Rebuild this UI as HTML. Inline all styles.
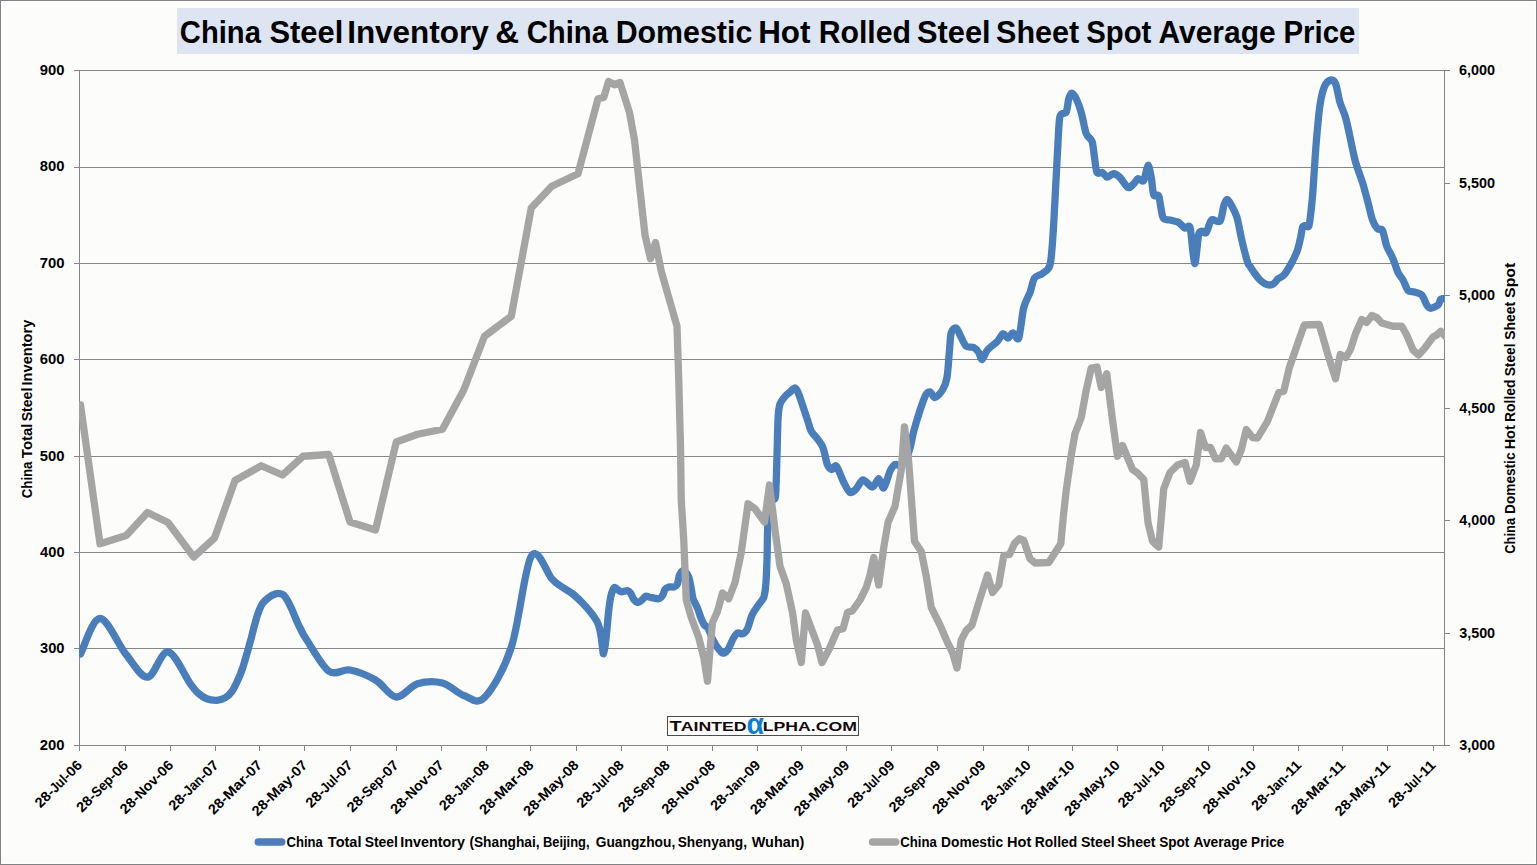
<!DOCTYPE html>
<html><head><meta charset="utf-8"><title>China Steel Inventory</title>
<style>
html,body{margin:0;padding:0;background:#fcfdfb;}
body{width:1537px;height:865px;overflow:hidden;position:relative;font-family:"Liberation Sans",sans-serif;}
</style></head><body>
<svg width="1537" height="865" viewBox="0 0 1537 865" style="position:absolute;left:0;top:0;font-family:'Liberation Sans',sans-serif;font-weight:bold">
<rect x="0" y="0" width="1537" height="865" fill="#808285"/>
<rect x="1" y="1" width="1535" height="863" fill="#ffffff"/>
<rect x="2" y="2" width="1533" height="861" fill="#fcfdfb"/>
<rect x="177" y="8" width="1182" height="46" fill="#dde5f2"/>
<text transform="translate(179.83 42.9) scale(0.9299 1)" font-size="31.4" fill="#000">China</text>
<text transform="translate(269.43 42.9) scale(0.9843 1)" font-size="31.4" fill="#000">Steel</text>
<text transform="translate(347.15 42.9) scale(1.0025 1)" font-size="31.4" fill="#000">Inventory</text>
<text transform="translate(495.28 42.9) scale(1.0502 1)" font-size="31.4" fill="#000">&amp;</text>
<text transform="translate(526.63 42.9) scale(0.9334 1)" font-size="31.4" fill="#000">China</text>
<text transform="translate(615.63 42.9) scale(0.9676 1)" font-size="31.4" fill="#000">Domestic</text>
<text transform="translate(758.16 42.9) scale(0.9996 1)" font-size="31.4" fill="#000">Hot</text>
<text transform="translate(818.63 42.9) scale(0.9636 1)" font-size="31.4" fill="#000">Rolled</text>
<text transform="translate(916.93 42.9) scale(0.9815 1)" font-size="31.4" fill="#000">Steel</text>
<text transform="translate(996.04 42.9) scale(0.9731 1)" font-size="31.4" fill="#000">Sheet</text>
<text transform="translate(1086.17 42.9) scale(0.9342 1)" font-size="31.4" fill="#000">Spot</text>
<text transform="translate(1158.40 42.9) scale(0.9558 1)" font-size="31.4" fill="#000">Average</text>
<text transform="translate(1283.49 42.9) scale(0.9364 1)" font-size="31.4" fill="#000">Price</text>
<line x1="74.0" y1="70.50" x2="1444.5" y2="70.50" stroke="#848689" stroke-width="1"/>
<line x1="74.0" y1="167.50" x2="1444.5" y2="167.50" stroke="#848689" stroke-width="1"/>
<line x1="74.0" y1="263.50" x2="1444.5" y2="263.50" stroke="#848689" stroke-width="1"/>
<line x1="74.0" y1="359.50" x2="1444.5" y2="359.50" stroke="#848689" stroke-width="1"/>
<line x1="74.0" y1="456.50" x2="1444.5" y2="456.50" stroke="#848689" stroke-width="1"/>
<line x1="74.0" y1="552.50" x2="1444.5" y2="552.50" stroke="#848689" stroke-width="1"/>
<line x1="74.0" y1="648.50" x2="1444.5" y2="648.50" stroke="#848689" stroke-width="1"/>
<line x1="74.0" y1="745.50" x2="1444.5" y2="745.50" stroke="#848689" stroke-width="1"/>
<line x1="79.5" y1="70.0" x2="79.5" y2="751.0" stroke="#848689" stroke-width="1"/>
<line x1="1444.5" y1="70.0" x2="1444.5" y2="746.0" stroke="#848689" stroke-width="1"/>
<line x1="1444.5" y1="70.50" x2="1450.0" y2="70.50" stroke="#848689" stroke-width="1"/>
<line x1="1444.5" y1="183.50" x2="1450.0" y2="183.50" stroke="#848689" stroke-width="1"/>
<line x1="1444.5" y1="295.50" x2="1450.0" y2="295.50" stroke="#848689" stroke-width="1"/>
<line x1="1444.5" y1="408.50" x2="1450.0" y2="408.50" stroke="#848689" stroke-width="1"/>
<line x1="1444.5" y1="520.50" x2="1450.0" y2="520.50" stroke="#848689" stroke-width="1"/>
<line x1="1444.5" y1="633.50" x2="1450.0" y2="633.50" stroke="#848689" stroke-width="1"/>
<line x1="1444.5" y1="745.50" x2="1450.0" y2="745.50" stroke="#848689" stroke-width="1"/>
<line x1="79.5" y1="745.5" x2="79.5" y2="751.0" stroke="#848689" stroke-width="1"/>
<line x1="125.5" y1="745.5" x2="125.5" y2="751.0" stroke="#848689" stroke-width="1"/>
<line x1="170.5" y1="745.5" x2="170.5" y2="751.0" stroke="#848689" stroke-width="1"/>
<line x1="215.5" y1="745.5" x2="215.5" y2="751.0" stroke="#848689" stroke-width="1"/>
<line x1="259.5" y1="745.5" x2="259.5" y2="751.0" stroke="#848689" stroke-width="1"/>
<line x1="304.5" y1="745.5" x2="304.5" y2="751.0" stroke="#848689" stroke-width="1"/>
<line x1="350.5" y1="745.5" x2="350.5" y2="751.0" stroke="#848689" stroke-width="1"/>
<line x1="396.5" y1="745.5" x2="396.5" y2="751.0" stroke="#848689" stroke-width="1"/>
<line x1="441.5" y1="745.5" x2="441.5" y2="751.0" stroke="#848689" stroke-width="1"/>
<line x1="486.5" y1="745.5" x2="486.5" y2="751.0" stroke="#848689" stroke-width="1"/>
<line x1="530.5" y1="745.5" x2="530.5" y2="751.0" stroke="#848689" stroke-width="1"/>
<line x1="576.5" y1="745.5" x2="576.5" y2="751.0" stroke="#848689" stroke-width="1"/>
<line x1="621.5" y1="745.5" x2="621.5" y2="751.0" stroke="#848689" stroke-width="1"/>
<line x1="667.5" y1="745.5" x2="667.5" y2="751.0" stroke="#848689" stroke-width="1"/>
<line x1="712.5" y1="745.5" x2="712.5" y2="751.0" stroke="#848689" stroke-width="1"/>
<line x1="757.5" y1="745.5" x2="757.5" y2="751.0" stroke="#848689" stroke-width="1"/>
<line x1="801.5" y1="745.5" x2="801.5" y2="751.0" stroke="#848689" stroke-width="1"/>
<line x1="846.5" y1="745.5" x2="846.5" y2="751.0" stroke="#848689" stroke-width="1"/>
<line x1="891.5" y1="745.5" x2="891.5" y2="751.0" stroke="#848689" stroke-width="1"/>
<line x1="937.5" y1="745.5" x2="937.5" y2="751.0" stroke="#848689" stroke-width="1"/>
<line x1="983.5" y1="745.5" x2="983.5" y2="751.0" stroke="#848689" stroke-width="1"/>
<line x1="1028.5" y1="745.5" x2="1028.5" y2="751.0" stroke="#848689" stroke-width="1"/>
<line x1="1072.5" y1="745.5" x2="1072.5" y2="751.0" stroke="#848689" stroke-width="1"/>
<line x1="1117.5" y1="745.5" x2="1117.5" y2="751.0" stroke="#848689" stroke-width="1"/>
<line x1="1162.5" y1="745.5" x2="1162.5" y2="751.0" stroke="#848689" stroke-width="1"/>
<line x1="1208.5" y1="745.5" x2="1208.5" y2="751.0" stroke="#848689" stroke-width="1"/>
<line x1="1253.5" y1="745.5" x2="1253.5" y2="751.0" stroke="#848689" stroke-width="1"/>
<line x1="1298.5" y1="745.5" x2="1298.5" y2="751.0" stroke="#848689" stroke-width="1"/>
<line x1="1342.5" y1="745.5" x2="1342.5" y2="751.0" stroke="#848689" stroke-width="1"/>
<line x1="1387.5" y1="745.5" x2="1387.5" y2="751.0" stroke="#848689" stroke-width="1"/>
<line x1="1433.5" y1="745.5" x2="1433.5" y2="751.0" stroke="#848689" stroke-width="1"/>
<text transform="translate(39.86 74.90) scale(1.0565 1)" font-size="14" fill="#000">900</text>
<text transform="translate(39.86 170.90) scale(1.0565 1)" font-size="14" fill="#000">800</text>
<text transform="translate(39.70 267.90) scale(1.0631 1)" font-size="14" fill="#000">700</text>
<text transform="translate(39.78 363.90) scale(1.0598 1)" font-size="14" fill="#000">600</text>
<text transform="translate(39.86 460.90) scale(1.0565 1)" font-size="14" fill="#000">500</text>
<text transform="translate(40.08 556.90) scale(1.0467 1)" font-size="14" fill="#000">400</text>
<text transform="translate(40.01 652.90) scale(1.0500 1)" font-size="14" fill="#000">300</text>
<text transform="translate(39.86 749.90) scale(1.0565 1)" font-size="14" fill="#000">200</text>
<text transform="translate(1458.99 74.90) scale(1.0312 1)" font-size="14" fill="#000">6,000</text>
<text transform="translate(1459.07 187.90) scale(1.0291 1)" font-size="14" fill="#000">5,500</text>
<text transform="translate(1459.07 299.90) scale(1.0291 1)" font-size="14" fill="#000">5,000</text>
<text transform="translate(1459.29 412.90) scale(1.0228 1)" font-size="14" fill="#000">4,500</text>
<text transform="translate(1459.29 524.90) scale(1.0228 1)" font-size="14" fill="#000">4,000</text>
<text transform="translate(1459.21 637.90) scale(1.0249 1)" font-size="14" fill="#000">3,500</text>
<text transform="translate(1459.21 749.90) scale(1.0249 1)" font-size="14" fill="#000">3,000</text>
<text transform="translate(83.0 766) rotate(-45) translate(-21.10 0) scale(1.0428 1)" font-size="14" fill="#000">-06</text>
<text transform="translate(83.0 766) rotate(-45) translate(-38.90 0) scale(0.8800 1)" font-size="14" fill="#000">Jul</text>
<text transform="translate(83.0 766) rotate(-45) translate(-60.00 0) scale(1.0428 1)" font-size="14" fill="#000">28-</text>
<text transform="translate(129.0 766) rotate(-45) translate(-21.10 0) scale(1.0428 1)" font-size="14" fill="#000">-06</text>
<text transform="translate(129.0 766) rotate(-45) translate(-45.30 0) scale(0.9425 1)" font-size="14" fill="#000">Sep</text>
<text transform="translate(129.0 766) rotate(-45) translate(-66.40 0) scale(1.0428 1)" font-size="14" fill="#000">28-</text>
<text transform="translate(174.2 766) rotate(-45) translate(-21.10 0) scale(1.0428 1)" font-size="14" fill="#000">-06</text>
<text transform="translate(174.2 766) rotate(-45) translate(-47.80 0) scale(1.0095 1)" font-size="14" fill="#000">Nov</text>
<text transform="translate(174.2 766) rotate(-45) translate(-68.90 0) scale(1.0428 1)" font-size="14" fill="#000">28-</text>
<text transform="translate(219.4 766) rotate(-45) translate(-21.10 0) scale(1.0428 1)" font-size="14" fill="#000">-07</text>
<text transform="translate(219.4 766) rotate(-45) translate(-42.90 0) scale(0.9037 1)" font-size="14" fill="#000">Jan</text>
<text transform="translate(219.4 766) rotate(-45) translate(-64.00 0) scale(1.0428 1)" font-size="14" fill="#000">28-</text>
<text transform="translate(263.1 766) rotate(-45) translate(-21.10 0) scale(1.0428 1)" font-size="14" fill="#000">-07</text>
<text transform="translate(263.1 766) rotate(-45) translate(-48.70 0) scale(1.1086 1)" font-size="14" fill="#000">Mar</text>
<text transform="translate(263.1 766) rotate(-45) translate(-69.80 0) scale(1.0428 1)" font-size="14" fill="#000">28-</text>
<text transform="translate(308.3 766) rotate(-45) translate(-21.10 0) scale(1.0428 1)" font-size="14" fill="#000">-07</text>
<text transform="translate(308.3 766) rotate(-45) translate(-50.60 0) scale(1.0832 1)" font-size="14" fill="#000">May</text>
<text transform="translate(308.3 766) rotate(-45) translate(-71.70 0) scale(1.0428 1)" font-size="14" fill="#000">28-</text>
<text transform="translate(353.6 766) rotate(-45) translate(-21.10 0) scale(1.0428 1)" font-size="14" fill="#000">-07</text>
<text transform="translate(353.6 766) rotate(-45) translate(-38.90 0) scale(0.8800 1)" font-size="14" fill="#000">Jul</text>
<text transform="translate(353.6 766) rotate(-45) translate(-60.00 0) scale(1.0428 1)" font-size="14" fill="#000">28-</text>
<text transform="translate(399.5 766) rotate(-45) translate(-21.10 0) scale(1.0428 1)" font-size="14" fill="#000">-07</text>
<text transform="translate(399.5 766) rotate(-45) translate(-45.30 0) scale(0.9425 1)" font-size="14" fill="#000">Sep</text>
<text transform="translate(399.5 766) rotate(-45) translate(-66.40 0) scale(1.0428 1)" font-size="14" fill="#000">28-</text>
<text transform="translate(444.7 766) rotate(-45) translate(-21.10 0) scale(1.0428 1)" font-size="14" fill="#000">-07</text>
<text transform="translate(444.7 766) rotate(-45) translate(-47.80 0) scale(1.0095 1)" font-size="14" fill="#000">Nov</text>
<text transform="translate(444.7 766) rotate(-45) translate(-68.90 0) scale(1.0428 1)" font-size="14" fill="#000">28-</text>
<text transform="translate(489.9 766) rotate(-45) translate(-21.10 0) scale(1.0428 1)" font-size="14" fill="#000">-08</text>
<text transform="translate(489.9 766) rotate(-45) translate(-42.90 0) scale(0.9037 1)" font-size="14" fill="#000">Jan</text>
<text transform="translate(489.9 766) rotate(-45) translate(-64.00 0) scale(1.0428 1)" font-size="14" fill="#000">28-</text>
<text transform="translate(534.4 766) rotate(-45) translate(-21.10 0) scale(1.0428 1)" font-size="14" fill="#000">-08</text>
<text transform="translate(534.4 766) rotate(-45) translate(-48.70 0) scale(1.1086 1)" font-size="14" fill="#000">Mar</text>
<text transform="translate(534.4 766) rotate(-45) translate(-69.80 0) scale(1.0428 1)" font-size="14" fill="#000">28-</text>
<text transform="translate(579.6 766) rotate(-45) translate(-21.10 0) scale(1.0428 1)" font-size="14" fill="#000">-08</text>
<text transform="translate(579.6 766) rotate(-45) translate(-50.60 0) scale(1.0832 1)" font-size="14" fill="#000">May</text>
<text transform="translate(579.6 766) rotate(-45) translate(-71.70 0) scale(1.0428 1)" font-size="14" fill="#000">28-</text>
<text transform="translate(624.8 766) rotate(-45) translate(-21.10 0) scale(1.0428 1)" font-size="14" fill="#000">-08</text>
<text transform="translate(624.8 766) rotate(-45) translate(-38.90 0) scale(0.8800 1)" font-size="14" fill="#000">Jul</text>
<text transform="translate(624.8 766) rotate(-45) translate(-60.00 0) scale(1.0428 1)" font-size="14" fill="#000">28-</text>
<text transform="translate(670.8 766) rotate(-45) translate(-21.10 0) scale(1.0428 1)" font-size="14" fill="#000">-08</text>
<text transform="translate(670.8 766) rotate(-45) translate(-45.30 0) scale(0.9425 1)" font-size="14" fill="#000">Sep</text>
<text transform="translate(670.8 766) rotate(-45) translate(-66.40 0) scale(1.0428 1)" font-size="14" fill="#000">28-</text>
<text transform="translate(716.0 766) rotate(-45) translate(-21.10 0) scale(1.0428 1)" font-size="14" fill="#000">-08</text>
<text transform="translate(716.0 766) rotate(-45) translate(-47.80 0) scale(1.0095 1)" font-size="14" fill="#000">Nov</text>
<text transform="translate(716.0 766) rotate(-45) translate(-68.90 0) scale(1.0428 1)" font-size="14" fill="#000">28-</text>
<text transform="translate(761.2 766) rotate(-45) translate(-21.10 0) scale(1.0428 1)" font-size="14" fill="#000">-09</text>
<text transform="translate(761.2 766) rotate(-45) translate(-42.90 0) scale(0.9037 1)" font-size="14" fill="#000">Jan</text>
<text transform="translate(761.2 766) rotate(-45) translate(-64.00 0) scale(1.0428 1)" font-size="14" fill="#000">28-</text>
<text transform="translate(805.0 766) rotate(-45) translate(-21.10 0) scale(1.0428 1)" font-size="14" fill="#000">-09</text>
<text transform="translate(805.0 766) rotate(-45) translate(-48.70 0) scale(1.1086 1)" font-size="14" fill="#000">Mar</text>
<text transform="translate(805.0 766) rotate(-45) translate(-69.80 0) scale(1.0428 1)" font-size="14" fill="#000">28-</text>
<text transform="translate(850.2 766) rotate(-45) translate(-21.10 0) scale(1.0428 1)" font-size="14" fill="#000">-09</text>
<text transform="translate(850.2 766) rotate(-45) translate(-50.60 0) scale(1.0832 1)" font-size="14" fill="#000">May</text>
<text transform="translate(850.2 766) rotate(-45) translate(-71.70 0) scale(1.0428 1)" font-size="14" fill="#000">28-</text>
<text transform="translate(895.4 766) rotate(-45) translate(-21.10 0) scale(1.0428 1)" font-size="14" fill="#000">-09</text>
<text transform="translate(895.4 766) rotate(-45) translate(-38.90 0) scale(0.8800 1)" font-size="14" fill="#000">Jul</text>
<text transform="translate(895.4 766) rotate(-45) translate(-60.00 0) scale(1.0428 1)" font-size="14" fill="#000">28-</text>
<text transform="translate(941.4 766) rotate(-45) translate(-21.10 0) scale(1.0428 1)" font-size="14" fill="#000">-09</text>
<text transform="translate(941.4 766) rotate(-45) translate(-45.30 0) scale(0.9425 1)" font-size="14" fill="#000">Sep</text>
<text transform="translate(941.4 766) rotate(-45) translate(-66.40 0) scale(1.0428 1)" font-size="14" fill="#000">28-</text>
<text transform="translate(986.6 766) rotate(-45) translate(-21.10 0) scale(1.0428 1)" font-size="14" fill="#000">-09</text>
<text transform="translate(986.6 766) rotate(-45) translate(-47.80 0) scale(1.0095 1)" font-size="14" fill="#000">Nov</text>
<text transform="translate(986.6 766) rotate(-45) translate(-68.90 0) scale(1.0428 1)" font-size="14" fill="#000">28-</text>
<text transform="translate(1031.8 766) rotate(-45) translate(-21.10 0) scale(1.0428 1)" font-size="14" fill="#000">-10</text>
<text transform="translate(1031.8 766) rotate(-45) translate(-42.90 0) scale(0.9037 1)" font-size="14" fill="#000">Jan</text>
<text transform="translate(1031.8 766) rotate(-45) translate(-64.00 0) scale(1.0428 1)" font-size="14" fill="#000">28-</text>
<text transform="translate(1075.5 766) rotate(-45) translate(-21.10 0) scale(1.0428 1)" font-size="14" fill="#000">-10</text>
<text transform="translate(1075.5 766) rotate(-45) translate(-48.70 0) scale(1.1086 1)" font-size="14" fill="#000">Mar</text>
<text transform="translate(1075.5 766) rotate(-45) translate(-69.80 0) scale(1.0428 1)" font-size="14" fill="#000">28-</text>
<text transform="translate(1120.7 766) rotate(-45) translate(-21.10 0) scale(1.0428 1)" font-size="14" fill="#000">-10</text>
<text transform="translate(1120.7 766) rotate(-45) translate(-50.60 0) scale(1.0832 1)" font-size="14" fill="#000">May</text>
<text transform="translate(1120.7 766) rotate(-45) translate(-71.70 0) scale(1.0428 1)" font-size="14" fill="#000">28-</text>
<text transform="translate(1165.9 766) rotate(-45) translate(-21.10 0) scale(1.0428 1)" font-size="14" fill="#000">-10</text>
<text transform="translate(1165.9 766) rotate(-45) translate(-38.90 0) scale(0.8800 1)" font-size="14" fill="#000">Jul</text>
<text transform="translate(1165.9 766) rotate(-45) translate(-60.00 0) scale(1.0428 1)" font-size="14" fill="#000">28-</text>
<text transform="translate(1211.9 766) rotate(-45) translate(-21.10 0) scale(1.0428 1)" font-size="14" fill="#000">-10</text>
<text transform="translate(1211.9 766) rotate(-45) translate(-45.30 0) scale(0.9425 1)" font-size="14" fill="#000">Sep</text>
<text transform="translate(1211.9 766) rotate(-45) translate(-66.40 0) scale(1.0428 1)" font-size="14" fill="#000">28-</text>
<text transform="translate(1257.1 766) rotate(-45) translate(-21.10 0) scale(1.0428 1)" font-size="14" fill="#000">-10</text>
<text transform="translate(1257.1 766) rotate(-45) translate(-47.80 0) scale(1.0095 1)" font-size="14" fill="#000">Nov</text>
<text transform="translate(1257.1 766) rotate(-45) translate(-68.90 0) scale(1.0428 1)" font-size="14" fill="#000">28-</text>
<text transform="translate(1302.3 766) rotate(-45) translate(-21.10 0) scale(1.0842 1)" font-size="14" fill="#000">-11</text>
<text transform="translate(1302.3 766) rotate(-45) translate(-42.90 0) scale(0.9037 1)" font-size="14" fill="#000">Jan</text>
<text transform="translate(1302.3 766) rotate(-45) translate(-64.00 0) scale(1.0428 1)" font-size="14" fill="#000">28-</text>
<text transform="translate(1346.1 766) rotate(-45) translate(-21.10 0) scale(1.0842 1)" font-size="14" fill="#000">-11</text>
<text transform="translate(1346.1 766) rotate(-45) translate(-48.70 0) scale(1.1086 1)" font-size="14" fill="#000">Mar</text>
<text transform="translate(1346.1 766) rotate(-45) translate(-69.80 0) scale(1.0428 1)" font-size="14" fill="#000">28-</text>
<text transform="translate(1391.3 766) rotate(-45) translate(-21.10 0) scale(1.0842 1)" font-size="14" fill="#000">-11</text>
<text transform="translate(1391.3 766) rotate(-45) translate(-50.60 0) scale(1.0832 1)" font-size="14" fill="#000">May</text>
<text transform="translate(1391.3 766) rotate(-45) translate(-71.70 0) scale(1.0428 1)" font-size="14" fill="#000">28-</text>
<text transform="translate(1436.5 766) rotate(-45) translate(-21.10 0) scale(1.0842 1)" font-size="14" fill="#000">-11</text>
<text transform="translate(1436.5 766) rotate(-45) translate(-38.90 0) scale(0.8800 1)" font-size="14" fill="#000">Jul</text>
<text transform="translate(1436.5 766) rotate(-45) translate(-60.00 0) scale(1.0428 1)" font-size="14" fill="#000">28-</text>
<text transform="translate(32.3 0) rotate(-90) translate(-498.23 0) scale(0.9440 1)" font-size="14" fill="#000">China</text>
<text transform="translate(32.3 0) rotate(-90) translate(-458.15 0) scale(1.0699 1)" font-size="14" fill="#000">Total</text>
<text transform="translate(32.3 0) rotate(-90) translate(-421.35 0) scale(1.0074 1)" font-size="14" fill="#000">Steel</text>
<text transform="translate(32.3 0) rotate(-90) translate(-385.45 0) scale(1.0437 1)" font-size="14" fill="#000">Inventory</text>
<text transform="translate(1515.2 0) rotate(-90) translate(-553.72 0) scale(0.9206 1)" font-size="14" fill="#000">China</text>
<text transform="translate(1515.2 0) rotate(-90) translate(-513.89 0) scale(0.9750 1)" font-size="14" fill="#000">Domestic</text>
<text transform="translate(1515.2 0) rotate(-90) translate(-449.34 0) scale(1.0313 1)" font-size="14" fill="#000">Hot</text>
<text transform="translate(1515.2 0) rotate(-90) translate(-421.90 0) scale(0.9915 1)" font-size="14" fill="#000">Rolled</text>
<text transform="translate(1515.2 0) rotate(-90) translate(-376.34 0) scale(0.9856 1)" font-size="14" fill="#000">Steel</text>
<text transform="translate(1515.2 0) rotate(-90) translate(-339.85 0) scale(0.9984 1)" font-size="14" fill="#000">Sheet</text>
<text transform="translate(1515.2 0) rotate(-90) translate(-297.90 0) scale(1.1325 1)" font-size="14" fill="#000">Spot</text>
<clipPath id="pc"><rect x="79.2" y="60" width="1365.8" height="700"/></clipPath>
<g clip-path="url(#pc)" fill="none" stroke-linejoin="round" stroke-linecap="round">
<path d="M80.50 654.00C83.75 648.08 92.42 618.43 100.00 618.50C107.58 618.57 118.08 644.63 126.00 654.40C133.92 664.17 140.50 677.52 147.50 677.10C154.50 676.68 160.92 650.87 168.00 651.90C175.08 652.93 184.95 676.40 190.00 683.30C195.05 690.20 195.52 690.72 198.30 693.30C201.08 695.88 203.63 697.58 206.70 698.75C209.77 699.92 213.65 700.44 216.70 700.30C219.75 700.16 222.50 699.33 225.00 697.90C227.50 696.47 229.75 694.27 231.70 691.70C233.65 689.13 234.90 686.37 236.70 682.50C238.50 678.63 240.25 675.25 242.50 668.50C244.75 661.75 248.35 648.62 250.20 642.00C252.05 635.38 252.35 633.43 253.60 628.80C254.85 624.17 256.18 618.45 257.70 614.20C259.22 609.95 260.77 606.15 262.70 603.30C264.63 600.45 267.22 598.65 269.30 597.10C271.38 595.55 273.53 594.60 275.20 594.00C276.87 593.40 277.92 593.33 279.30 593.50C280.68 593.67 282.10 593.78 283.50 595.00C284.90 596.22 286.32 598.43 287.70 600.80C289.08 603.17 290.42 606.13 291.80 609.20C293.18 612.27 294.60 616.02 296.00 619.20C297.40 622.38 298.40 624.83 300.20 628.30C302.00 631.77 302.00 632.84 306.80 640.00C311.60 647.16 321.80 666.25 329.00 671.25C336.20 676.25 342.25 668.54 350.00 670.00C357.75 671.46 367.79 675.50 375.50 680.00C383.21 684.50 389.25 696.38 396.25 697.00C403.25 697.62 409.79 686.08 417.50 683.75C425.21 681.42 434.79 681.04 442.50 683.00C450.21 684.96 456.75 693.08 463.75 695.50C470.75 697.92 476.58 705.50 484.50 697.50C492.42 689.50 503.46 671.04 511.25 647.50C519.04 623.96 524.50 567.71 531.25 556.25C538.00 544.79 546.96 573.86 551.75 578.75C556.54 583.64 556.54 583.10 560.00 585.60C563.46 588.10 568.75 590.85 572.50 593.75C576.25 596.65 579.38 599.79 582.50 603.00C585.62 606.21 588.85 609.96 591.25 613.00C593.65 616.04 595.54 618.75 596.90 621.25C598.06 623.39 598.78 625.68 599.40 628.00C600.02 630.32 600.81 634.71 601.25 637.50C601.69 640.29 602.18 645.18 602.50 647.50C602.82 649.82 603.11 654.11 603.50 653.75C603.89 653.39 604.76 648.39 605.25 645.00C605.74 641.61 606.44 634.64 606.90 630.00C607.36 625.36 607.97 617.14 608.50 612.50C609.03 607.86 609.94 600.80 610.60 597.50C611.26 594.20 612.44 590.83 613.10 589.40C613.76 587.97 614.54 587.41 615.25 587.50C615.96 587.59 617.24 589.37 618.10 590.00C618.96 590.63 619.91 591.81 621.25 591.90C622.59 591.99 626.16 590.43 627.50 590.60C628.84 590.77 629.71 591.84 630.60 593.10C631.49 594.36 632.68 598.06 633.75 599.40C634.82 600.74 636.94 602.41 638.10 602.50C639.26 602.59 640.83 600.89 641.90 600.00C642.97 599.11 644.44 596.64 645.60 596.25C646.76 595.86 648.12 596.89 650.00 597.25C651.88 597.61 656.96 598.99 658.75 598.75C660.54 598.51 661.61 596.94 662.50 595.60C663.39 594.26 664.11 590.64 665.00 589.40C665.89 588.16 667.41 587.26 668.75 586.90C670.09 586.54 673.15 587.35 674.40 586.90C675.65 586.45 676.79 585.45 677.50 583.75C678.21 582.05 678.77 576.79 679.40 575.00C680.03 573.21 681.10 571.75 681.90 571.25C682.70 570.75 684.02 570.68 685.00 571.50C685.98 572.32 687.86 574.54 688.75 577.00C689.64 579.46 690.63 585.64 691.25 588.75C691.87 591.86 692.21 595.99 693.10 598.75C693.99 601.51 696.34 605.24 697.50 608.10C698.66 610.96 700.26 616.34 701.25 618.75C702.24 621.16 703.42 623.66 704.40 625.00C705.38 626.34 707.03 626.31 708.10 628.10C709.17 629.89 710.56 634.73 711.90 637.50C713.24 640.27 715.90 645.27 717.50 647.50C719.10 649.73 721.59 652.83 723.10 653.10C724.61 653.37 726.67 651.45 728.10 649.40C729.53 647.35 731.76 641.08 733.10 638.75C734.44 636.42 736.07 633.81 737.50 633.10C738.93 632.39 741.67 634.37 743.10 633.75C744.53 633.13 746.21 631.43 747.50 628.75C748.79 626.07 750.49 618.46 752.10 615.00C753.71 611.54 757.09 607.00 758.75 604.50C760.41 602.00 762.75 600.29 763.75 597.50C764.75 594.71 765.29 590.36 765.75 585.00C766.21 579.64 766.74 567.86 767.00 560.00C767.26 552.14 767.31 537.43 767.60 530.00C767.89 522.57 768.37 512.43 769.00 508.00C769.63 503.57 771.07 500.71 772.00 499.00C772.93 497.29 774.79 502.29 775.50 496.00C776.21 489.71 776.63 466.21 777.00 455.00C777.37 443.79 777.67 424.79 778.10 417.50C778.53 410.21 779.01 407.00 780.00 404.00C780.99 401.00 783.57 398.21 785.00 396.50C786.43 394.79 788.57 393.21 790.00 392.00C791.43 390.79 793.84 387.93 795.00 388.00C796.16 388.07 797.03 390.07 798.10 392.50C799.17 394.93 801.16 401.07 802.50 405.00C803.84 408.93 806.25 416.25 807.50 420.00C808.75 423.75 809.82 428.54 811.25 431.25C812.68 433.96 815.89 436.82 817.50 439.00C819.11 441.18 821.43 444.21 822.50 446.50C823.57 448.79 824.29 452.36 825.00 455.00C825.71 457.64 826.51 462.91 827.50 465.00C828.49 467.09 830.61 469.42 831.90 469.60C833.19 469.78 834.81 464.41 836.50 466.25C838.19 468.09 841.82 478.75 843.75 482.50C845.68 486.25 848.21 491.61 850.00 492.50C851.79 493.39 854.39 490.54 856.25 488.75C858.11 486.96 860.68 480.25 863.00 480.00C865.32 479.75 870.25 487.18 872.50 487.00C874.75 486.82 877.14 478.61 878.75 478.75C880.36 478.89 882.14 489.07 883.75 488.00C885.36 486.93 888.39 474.61 890.00 471.25C891.61 467.89 893.39 465.32 895.00 464.50C896.61 463.68 899.61 466.43 901.25 465.50C902.89 464.57 905.21 460.64 906.50 458.00C907.79 455.36 909.14 451.29 910.30 447.00C911.46 442.71 912.50 435.21 914.60 428.00C916.70 420.79 922.80 401.64 925.00 396.50C927.20 391.36 928.57 391.86 930.00 392.00C931.43 392.14 933.21 397.79 935.00 397.50C936.79 397.21 940.79 392.86 942.50 390.00C944.21 387.14 946.00 383.21 947.00 377.50C948.00 371.79 948.89 356.43 949.50 350.00C950.11 343.57 950.29 335.64 951.25 332.50C952.21 329.36 954.82 327.29 956.25 328.00C957.68 328.71 959.82 334.89 961.25 337.50C962.68 340.11 964.46 344.82 966.25 346.25C968.04 347.68 971.96 346.61 973.75 347.50C975.54 348.39 977.57 350.79 978.75 352.50C979.93 354.21 980.75 359.86 982.00 359.50C983.25 359.14 985.29 352.61 987.50 350.00C989.71 347.39 995.29 343.57 997.50 341.25C999.71 338.93 1001.50 334.21 1003.00 333.75C1004.50 333.29 1006.57 338.11 1008.00 338.00C1009.43 337.89 1011.46 333.00 1013.00 333.00C1014.54 333.00 1017.21 341.64 1018.75 338.00C1020.29 334.36 1022.14 314.00 1023.75 307.50C1025.36 301.00 1028.46 296.71 1030.00 292.50C1031.54 288.29 1032.71 280.71 1034.50 278.00C1036.29 275.29 1040.29 275.36 1042.50 273.50C1044.71 271.64 1048.50 270.50 1050.00 265.00C1051.50 259.50 1052.21 245.71 1053.00 235.00C1053.79 224.29 1054.79 203.21 1055.50 190.00C1056.21 176.79 1057.36 153.04 1058.00 142.50C1058.64 131.96 1058.82 120.61 1060.00 116.25C1061.18 111.89 1065.00 114.50 1066.25 112.00C1067.50 109.50 1067.96 101.45 1068.75 98.75C1069.54 96.05 1070.68 93.10 1071.75 93.10C1072.82 93.10 1074.89 95.98 1076.25 98.75C1077.61 101.52 1079.82 107.50 1081.25 112.50C1082.68 117.50 1084.71 129.64 1086.25 133.75C1087.79 137.86 1090.82 137.86 1092.00 141.25C1093.18 144.64 1093.79 153.04 1094.50 157.50C1095.21 161.96 1095.86 170.36 1097.00 172.50C1098.14 174.64 1101.07 171.86 1102.50 172.50C1103.93 173.14 1105.39 176.82 1107.00 177.00C1108.61 177.18 1111.89 173.68 1113.75 173.75C1115.61 173.82 1117.96 175.54 1120.00 177.50C1122.04 179.46 1126.04 186.61 1128.00 187.50C1129.96 188.39 1132.32 185.00 1133.75 183.75C1135.18 182.50 1136.57 179.21 1138.00 178.75C1139.43 178.29 1142.32 182.42 1143.75 180.50C1145.18 178.58 1146.93 165.73 1148.00 165.30C1149.07 164.87 1150.43 173.26 1151.25 177.50C1152.07 181.74 1152.68 192.32 1153.75 195.00C1154.82 197.68 1157.43 193.04 1158.75 196.25C1160.07 199.46 1161.39 214.11 1163.00 217.50C1164.61 220.89 1167.75 219.29 1170.00 220.00C1172.25 220.71 1176.68 221.36 1178.75 222.50C1180.82 223.64 1182.89 227.29 1184.50 228.00C1186.11 228.71 1188.79 224.00 1190.00 227.50C1191.21 231.00 1192.26 247.43 1193.00 252.50C1193.74 257.57 1194.40 265.50 1195.20 263.00C1196.00 260.50 1197.70 239.54 1198.60 235.00C1199.50 230.46 1200.41 231.61 1201.50 231.25C1202.59 230.89 1204.82 234.11 1206.25 232.50C1207.68 230.89 1209.54 221.61 1211.50 220.00C1213.46 218.39 1218.21 223.39 1220.00 221.25C1221.79 219.11 1222.97 208.11 1224.00 205.00C1225.03 201.89 1226.16 199.50 1227.20 199.50C1228.24 199.50 1229.85 202.43 1231.25 205.00C1232.65 207.57 1235.46 212.36 1237.00 217.50C1238.54 222.64 1240.46 234.50 1242.00 241.00C1243.54 247.50 1246.66 259.39 1247.80 263.00C1248.94 266.61 1248.97 264.71 1250.00 266.25C1251.03 267.79 1253.57 271.79 1255.00 273.75C1256.43 275.71 1258.57 278.57 1260.00 280.00C1261.43 281.43 1263.57 283.04 1265.00 283.75C1266.43 284.46 1268.66 285.09 1270.00 285.00C1271.34 284.91 1273.24 283.99 1274.40 283.10C1275.56 282.21 1276.94 279.73 1278.10 278.75C1279.26 277.77 1281.34 277.23 1282.50 276.25C1283.66 275.27 1284.82 274.04 1286.25 271.90C1287.68 269.76 1290.89 264.38 1292.50 261.25C1294.11 258.12 1296.34 253.39 1297.50 250.00C1298.66 246.61 1299.89 240.71 1300.60 237.50C1301.31 234.29 1301.87 229.20 1302.50 227.50C1303.13 225.80 1304.11 225.78 1305.00 225.60C1305.89 225.42 1307.95 227.76 1308.75 226.25C1309.55 224.74 1310.15 218.39 1310.60 215.00C1311.05 211.61 1311.56 206.07 1311.90 202.50C1312.24 198.93 1312.38 198.57 1313.00 190.00C1313.62 181.43 1315.25 154.64 1316.25 142.50C1317.25 130.36 1318.82 113.00 1320.00 105.00C1321.18 97.00 1323.00 90.06 1324.50 86.50C1326.00 82.94 1328.90 80.46 1330.50 80.10C1332.10 79.74 1334.34 80.80 1335.70 84.00C1337.06 87.20 1338.49 97.36 1340.00 102.50C1341.51 107.64 1344.11 111.79 1346.25 120.00C1348.39 128.21 1352.68 151.07 1355.00 160.00C1357.32 168.93 1360.64 176.43 1362.50 182.50C1364.36 188.57 1366.57 197.14 1368.00 202.50C1369.43 207.86 1371.14 216.25 1372.50 220.00C1373.86 223.75 1376.07 227.25 1377.50 228.75C1378.93 230.25 1381.18 228.00 1382.50 230.50C1383.82 233.00 1385.25 242.21 1386.75 246.25C1388.25 250.29 1391.39 255.00 1393.00 258.75C1394.61 262.50 1396.57 269.46 1398.00 272.50C1399.43 275.54 1401.57 277.43 1403.00 280.00C1404.43 282.57 1406.39 288.79 1408.00 290.50C1409.61 292.21 1412.29 291.36 1414.25 292.00C1416.21 292.64 1419.96 293.14 1421.75 295.00C1423.54 296.86 1425.50 303.11 1426.75 305.00C1428.00 306.89 1428.89 308.25 1430.50 308.25C1432.11 308.25 1436.57 306.25 1438.00 305.00C1439.43 303.75 1439.79 300.41 1440.50 299.50C1441.21 298.59 1442.21 298.73 1443.00 298.60C1443.79 298.47 1445.57 298.60 1446.00 298.60" stroke="#4a7ebb" stroke-width="7.3"/>
<path d="M80.50 405.00L100.00 543.75L126.25 535.50L147.50 512.50L168.00 522.50L193.75 557.00L214.50 538.00L235.00 480.50L261.25 465.75L282.50 475.00L303.00 456.25L328.75 454.50L350.00 522.00L375.50 530.00L396.25 442.00L417.50 434.25L442.50 429.25L463.75 390.00L484.50 336.25L511.25 316.25L531.25 208.00L551.75 186.25L578.00 173.75L598.00 98.75L603.75 97.50L608.50 81.50L614.50 84.75L620.00 82.50L629.50 112.50L634.50 140.00L640.00 190.00L645.00 235.00L650.50 258.75L655.50 242.50L661.25 271.25L677.00 326.25L678.75 380.00L680.50 446.00L681.25 500.00L683.75 540.00L686.25 600.00L691.25 617.50L698.75 637.50L703.75 657.50L707.50 681.25L710.00 650.00L712.50 622.50L717.50 611.25L722.50 593.00L728.75 598.75L735.00 582.50L741.25 552.50L748.00 503.75L755.00 508.75L764.50 522.00L769.50 485.00L775.00 530.00L780.00 566.25L786.25 583.75L792.50 612.50L796.25 640.00L801.25 662.50L805.50 613.00L817.50 645.00L822.00 662.50L828.75 650.00L837.50 630.00L843.00 628.75L847.50 612.50L852.50 610.75L860.00 600.00L866.25 587.50L870.00 575.00L873.75 557.50L878.75 585.00L883.75 547.50L888.00 522.50L895.00 506.25L901.25 470.00L904.50 426.80L908.75 462.50L914.50 541.25L921.25 551.50L926.25 576.25L931.25 607.50L940.00 625.00L947.50 642.50L952.50 652.50L957.00 668.00L961.25 640.00L966.25 630.50L972.00 625.00L978.75 602.50L987.50 575.00L992.50 592.50L998.75 585.00L1003.75 555.50L1009.50 554.50L1014.50 543.50L1019.50 538.75L1023.75 540.50L1030.00 558.75L1035.00 563.00L1048.75 562.50L1060.75 543.75L1063.75 512.50L1066.25 490.00L1071.25 455.00L1075.00 433.75L1081.25 417.50L1086.25 390.00L1091.25 368.00L1097.00 367.00L1101.25 387.50L1106.75 373.75L1112.50 420.00L1117.50 456.25L1122.50 445.50L1132.50 469.50L1137.50 473.00L1143.75 479.50L1148.00 522.50L1152.50 541.25L1158.75 547.00L1163.75 488.75L1170.00 472.50L1177.50 465.00L1185.00 462.50L1190.00 481.25L1196.25 465.00L1200.50 432.50L1205.50 447.50L1210.50 447.50L1215.50 458.75L1221.25 458.75L1226.25 448.00L1236.25 462.00L1241.25 450.00L1246.25 429.50L1252.50 437.50L1257.50 438.00L1267.50 421.25L1278.75 392.50L1283.75 391.25L1289.25 368.00L1298.00 342.50L1304.25 325.00L1319.25 324.50L1328.00 355.00L1335.50 378.75L1340.25 354.50L1345.75 357.50L1350.50 349.50L1355.50 333.75L1361.75 319.50L1366.75 322.50L1371.75 315.50L1376.75 317.50L1381.75 323.00L1393.00 326.25L1401.75 326.25L1406.75 335.00L1413.00 350.00L1418.50 355.00L1424.25 348.75L1433.00 337.00L1436.75 335.00L1440.80 331.30L1445.50 336.50" stroke="#a5a5a5" stroke-width="7.3"/>
</g>
<rect x="667.5" y="716.5" width="191" height="19" fill="#ffffff" stroke="#4d4d4d" stroke-width="1"/>
<text transform="translate(669.60 730.9) scale(1.3333 1)" font-size="15" fill="#140a0a">T</text>
<text transform="translate(680.75 730.9) scale(1.4881 1)" font-size="11.9" fill="#140a0a">AINTED</text>
<text transform="translate(762.75 730.9) scale(1.4869 1)" font-size="11.9" fill="#140a0a">LPHA.COM</text>
<text transform="translate(746.51 733.7) scale(0.9800 1)" font-size="29" fill="#0d7fd3">α</text>
<line x1="258.2" y1="842" x2="281.8" y2="842" stroke="#4a7ebb" stroke-width="7.3" stroke-linecap="round"/>
<line x1="872.5" y1="842" x2="895.8" y2="842" stroke="#a5a5a5" stroke-width="7.3" stroke-linecap="round"/>
<text transform="translate(286.48 847) scale(0.9362 1)" font-size="14" fill="#000">China</text>
<text transform="translate(327.85 847) scale(1.0379 1)" font-size="14" fill="#000">Total</text>
<text transform="translate(364.65 847) scale(0.9950 1)" font-size="14" fill="#000">Steel</text>
<text transform="translate(400.32 847) scale(1.0268 1)" font-size="14" fill="#000">Inventory</text>
<text transform="translate(469.38 847) scale(0.9815 1)" font-size="14" fill="#000">(Shanghai,</text>
<text transform="translate(542.91 847) scale(0.9227 1)" font-size="14" fill="#000">Beijing,</text>
<text transform="translate(595.70 847) scale(0.9851 1)" font-size="14" fill="#000">Guangzhou,</text>
<text transform="translate(677.66 847) scale(0.9811 1)" font-size="14" fill="#000">Shenyang,</text>
<text transform="translate(751.75 847) scale(1.0319 1)" font-size="14" fill="#000">Wuhan)</text>
<text transform="translate(900.22 847) scale(0.9427 1)" font-size="14" fill="#000">China</text>
<text transform="translate(941.11 847) scale(0.9831 1)" font-size="14" fill="#000">Domestic</text>
<text transform="translate(1007.05 847) scale(1.0425 1)" font-size="14" fill="#000">Hot</text>
<text transform="translate(1034.85 847) scale(0.9891 1)" font-size="14" fill="#000">Rolled</text>
<text transform="translate(1080.90 847) scale(1.0105 1)" font-size="14" fill="#000">Steel</text>
<text transform="translate(1117.15 847) scale(1.0090 1)" font-size="14" fill="#000">Sheet</text>
<text transform="translate(1159.16 847) scale(0.9709 1)" font-size="14" fill="#000">Spot</text>
<text transform="translate(1193.47 847) scale(0.9858 1)" font-size="14" fill="#000">Average</text>
<text transform="translate(1251.12 847) scale(0.9650 1)" font-size="14" fill="#000">Price</text>
</svg>
</body></html>
